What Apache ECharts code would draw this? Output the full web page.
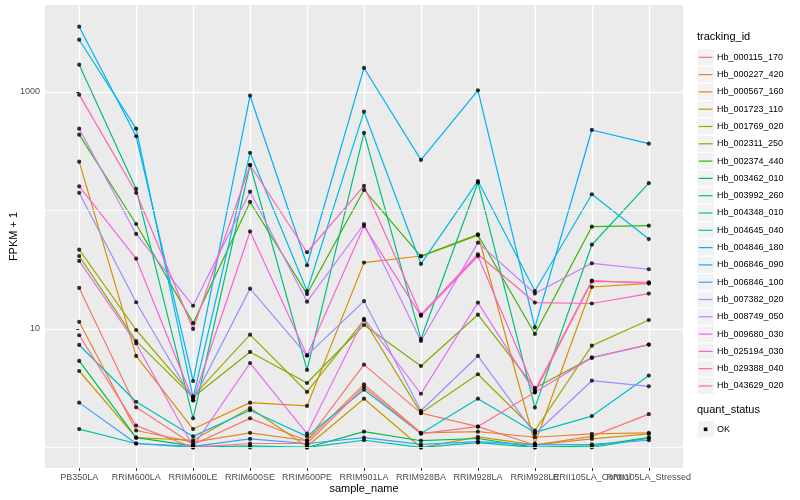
<!DOCTYPE html>
<html>
<head>
<meta charset="utf-8">
<script src="https://cdn.jsdelivr.net/npm/echarts/dist/echarts.min.js"></script>
<style>html,body{margin:0;padding:0;background:#fff}#c{width:800px;height:500px}</style>
</head>
<body>
<div id="c"></div>
<script>
const categories = ['PB350LA','RRIM600LA','RRIM600LE','RRIM600SE','RRIM600PE','RRIM901LA','RRIM928BA','RRIM928LA','RRIM928LE','RRII105LA_Control','RRII105LA_Stressed'];
const trackingIds = ['Hb_000115_170','Hb_000227_420','Hb_000567_160','Hb_001723_110','Hb_001769_020','Hb_002311_250','Hb_002374_440','Hb_003462_010','Hb_003992_260','Hb_004348_010','Hb_004645_040','Hb_004846_180','Hb_006846_090','Hb_006846_100','Hb_007382_020','Hb_008749_050','Hb_009680_030','Hb_025194_030','Hb_029388_040','Hb_043629_020'];
const colors = ['#F8766D','#EA8331','#D89000','#C09B00','#A3A500','#7CAE00','#39B600','#00BB4E','#00BF7D','#00C1A3','#00BFC4','#00BAE0','#00B0F6','#35A2FF','#9590FF','#C77CFF','#E76BF3','#FA62DB','#FF62BC','#FF6C91'];
const yTickLabels = [10, 1000];
const yMinorGrid = [1, 100];

// FPKM + 1 values, one array per tracking_id, in category order
const Hb_000115_170 = [22.2, 2.18, 1.06, 1.76, 1.14, 5.0, 1.95, 1.5, 1.05, 1.24, 1.91];
const Hb_000227_420 = [11.5, 1.39, 1.11, 1.33, 1.14, 3.41, 1.33, 1.36, 1.22, 1.30, 1.33];
const Hb_000567_160 = [258, 5.92, 1.43, 2.39, 2.24, 36.3, 41.3, 63, 1.08, 22.6, 24.3];
const Hb_001723_110 = [4.42, 1.21, 1.15, 2.15, 1.02, 2.58, 1.0, 1.23, 1.05, 1.18, 1.30];
const Hb_001769_020 = [46.7, 9.8, 2.7, 8.95, 2.94, 11.9, 1.95, 4.15, 1.39, 7.23, 11.9];
const Hb_002311_250 = [41.3, 7.9, 2.65, 6.4, 3.5, 10.8, 4.87, 13.2, 3.18, 5.73, 7.38];
const Hb_002374_440 = [436, 76.9, 11.2, 118, 19.7, 149, 41.0, 62, 9.08, 73, 74.4];
const Hb_003462_010 = [5.37, 1.21, 1.03, 1.0, 1.0, 1.36, 1.14, 1.19, 1.0, 1.03, 1.21];
const Hb_003992_260 = [1699, 152, 1.76, 242, 4.51, 451, 8.24, 172, 2.17, 51.4, 170];
const Hb_004348_010 = [1.43, 1.08, 1.0, 1.03, 1.0, 1.15, 1.0, 1.1, 1.0, 1.0, 1.2];
const Hb_004645_040 = [7.33, 2.43, 1.24, 2.06, 1.24, 3.07, 1.31, 2.58, 1.34, 1.84, 4.04];
const Hb_004846_180 = [2761, 490, 2.63, 307, 20.9, 682, 35.4, 177, 20.9, 137, 57.4];
const Hb_006846_090 = [3556, 423, 3.64, 930, 34.5, 1595, 267, 1033, 10.3, 478, 366];
const Hb_006846_100 = [2.39, 1.08, 1.02, 1.18, 1.08, 1.21, 1.06, 1.12, 1.05, 1.06, 1.15];
const Hb_007382_020 = [141, 16.8, 2.5, 21.9, 5.98, 17.2, 2.04, 5.92, 1.3, 3.66, 3.28];
const Hb_008749_050 = [490, 63.4, 15.7, 144, 17.0, 76.9, 7.92, 53.5, 19.9, 35.8, 31.9];
const Hb_009680_030 = [37.5, 7.55, 1.02, 5.16, 1.31, 12.2, 2.84, 16.7, 2.92, 5.73, 7.38];
const Hb_025194_030 = [160, 39.2, 2.5, 66.5, 5.98, 73.8, 12.9, 41.3, 3.04, 25.6, 24.3];
const Hb_029388_040 = [949, 141, 10, 242, 44.4, 161, 13.2, 42.7, 16.7, 16.4, 19.9];
const Hb_043629_020 = [8.85, 1.53, 1.0, 1.08, 1.08, 3.24, 1.31, 1.5, 2.92, 25.2, 24.8];

const seriesValues = [Hb_000115_170, Hb_000227_420, Hb_000567_160, Hb_001723_110, Hb_001769_020, Hb_002311_250, Hb_002374_440, Hb_003462_010, Hb_003992_260, Hb_004348_010, Hb_004645_040, Hb_004846_180, Hb_006846_090, Hb_006846_100, Hb_007382_020, Hb_008749_050, Hb_009680_030, Hb_025194_030, Hb_029388_040, Hb_043629_020];

const FONT = 'Liberation Sans, Arial, Helvetica, sans-serif';
const catIdx = categories.map((c, i) => i);
// labels split over two overlaid axes so that overlapping labels are all drawn (as in ggplot)
const labelsA = catIdx.filter(i => i % 2 === 0 || i < 8);
const labelsB = catIdx.filter(i => labelsA.indexOf(i) < 0);

const series = [];
// minor horizontal grid lines (ggplot minor breaks), carried by an invisible helper series
series.push({
  name: 'grid-minor',
  type: 'line',
  data: seriesValues[0].map((v, j) => [j, v]),
  showSymbol: false, symbol: 'none',
  lineStyle: { opacity: 0, width: 0 },
  silent: true, z: 1, animation: false,
  markLine: {
    silent: true, symbol: ['none', 'none'], label: { show: false }, animation: false,
    lineStyle: { color: '#fff', width: 0.8, type: 'solid', opacity: 1 },
    emphasis: { disabled: true },
    data: yMinorGrid.map(v => ({ yAxis: v }))
  }
});
seriesValues.forEach((vals, i) => series.push({
  name: trackingIds[i],
  type: 'line',
  data: vals.map((v, j) => [j, v]),
  showSymbol: false,
  symbol: 'none',
  lineStyle: { width: 1.2, color: colors[i] },
  itemStyle: { color: colors[i] },
  z: 2,
  silent: true,
  animation: false
}));
const pts = [];
seriesValues.forEach(vals => vals.forEach((v, j) => pts.push([j, v])));
series.push({
  name: 'OK',
  type: 'scatter',
  data: pts,
  symbol: 'circle',
  symbolSize: 4.2,
  itemStyle: { color: '#000' },
  z: 3,
  silent: true,
  animation: false
});

// legend (ggplot style) built from names and colours
const graphic = [];
const lx = 697, ly0 = 57.3, lstep = 17.3;
graphic.push({ type: 'text', left: lx, top: 31, style: { text: 'tracking_id', font: '11px ' + FONT, fill: '#000' } });
trackingIds.forEach((id, i) => {
  const cy = ly0 + i * lstep;
  graphic.push({ type: 'rect', shape: { x: lx, y: cy - 8.6, width: 17.2, height: 17.2 }, style: { fill: '#F2F2F2', stroke: '#fff', lineWidth: 1 } });
  graphic.push({ type: 'line', shape: { x1: lx + 1.7, y1: cy, x2: lx + 15.5, y2: cy }, style: { stroke: colors[i], lineWidth: 1.2 } });
  graphic.push({ type: 'text', x: lx + 20, y: cy, style: { text: id, font: '9px ' + FONT, fill: '#000', textVerticalAlign: 'middle' } });
});
graphic.push({ type: 'text', left: lx, top: 404, style: { text: 'quant_status', font: '11px ' + FONT, fill: '#000' } });
graphic.push({ type: 'rect', shape: { x: lx, y: 429.3 - 8.6, width: 17.2, height: 17.2 }, style: { fill: '#F2F2F2', stroke: '#fff', lineWidth: 1 } });
graphic.push({ type: 'rect', shape: { x: lx + 6.8, y: 429.3 - 1.8, width: 3.6, height: 3.6 }, style: { fill: '#000' } });
graphic.push({ type: 'text', x: lx + 20, y: 429.3, style: { text: 'OK', font: '9px ' + FONT, fill: '#000', textVerticalAlign: 'middle' } });

function xAxisDef(tickVals, labelVals, main) {
  return {
    type: 'value', min: -0.6, max: 10.6, position: 'bottom', offset: 0, gridIndex: 0,
    axisLine: { show: false },
    axisTick: { show: true, customValues: tickVals, length: 3, lineStyle: { color: '#333', width: 1 } },
    axisLabel: { customValues: labelVals, formatter: v => categories[Math.round(v)] || '', color: '#4D4D4D', fontSize: 9, margin: 5, hideOverlap: false, showMinLabel: true, showMaxLabel: true, fontFamily: FONT },
    splitLine: { show: main, lineStyle: { color: '#fff', width: 1.4 } },
    name: main ? 'sample_name' : '', nameLocation: 'middle', nameGap: 15, nameMoveOverlap: false,
    nameTextStyle: { fontSize: 11, color: '#000', fontFamily: FONT }
  };
}

const chart = echarts.init(document.getElementById('c'), null, { renderer: 'canvas' });
chart.setOption({
  animation: false,
  textStyle: { fontFamily: FONT },
  grid: { left: 45, right: 117, top: 5, bottom: 32, show: true, backgroundColor: '#EBEBEB', borderWidth: 0, containLabel: false, outerBoundsMode: 'none' },
  xAxis: [
    xAxisDef(catIdx, labelsA, true),
    xAxisDef(labelsB, labelsB, false)
  ],
  yAxis: {
    type: 'log', logBase: 10, min: 0.671, max: 5420,
    axisLine: { show: false },
    axisTick: { show: true, customValues: yTickLabels, length: 3, lineStyle: { color: '#333', width: 1 } },
    axisLabel: {
      customValues: yTickLabels,
      formatter: v => {
        const l = Math.log10(v), r = Math.round(l);
        return (Math.abs(l - r) < 1e-6 && yTickLabels.indexOf(Math.pow(10, r)) >= 0) ? String(Math.pow(10, r)) : '';
      },
      color: '#4D4D4D', fontSize: 9, margin: 5, showMinLabel: true, showMaxLabel: true, fontFamily: FONT
    },
    splitLine: { show: true, lineStyle: { color: '#fff', width: 1.4 } },
    name: 'FPKM + 1', nameLocation: 'middle', nameGap: 26, nameRotate: 90, nameMoveOverlap: false,
    nameTextStyle: { fontSize: 11, color: '#000', fontFamily: FONT }
  },
  graphic: graphic,
  series: series
});
</script>
</body>
</html>
